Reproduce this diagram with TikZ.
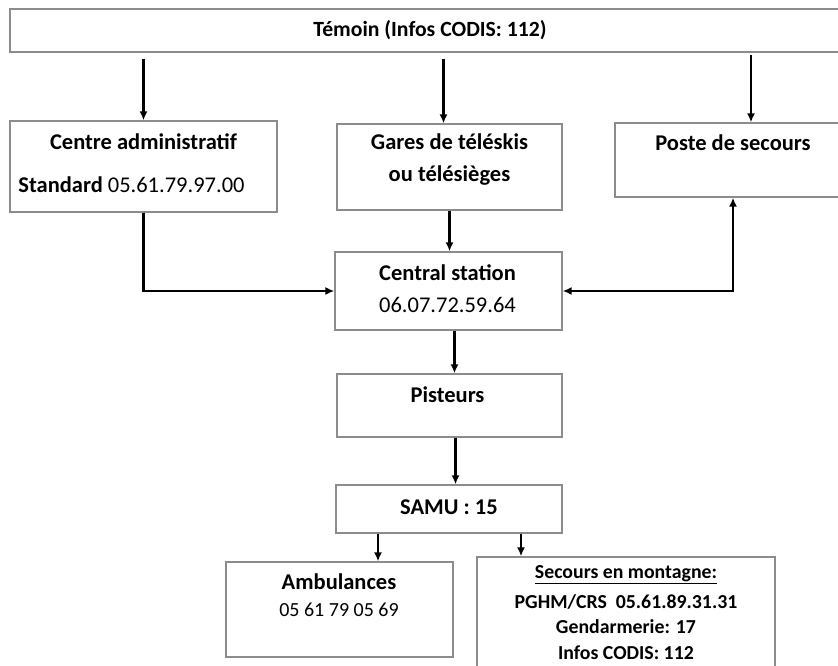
\documentclass[tikz,border=0pt]{standalone}
\usepackage{fontspec}
\setmainfont{Carlito}
\usetikzlibrary{arrows.meta}
\tikzset{
  box/.style={draw=black!45, line width=1.3pt, inner sep=0pt, fill=none},
  tb/.style={font=\bfseries\fontsize{22.5}{27}\selectfont, inner sep=0pt, anchor=center},
  tr/.style={font=\fontsize{22.5}{27}\selectfont, inner sep=0pt, anchor=center},
  ts/.style={font=\bfseries\fontsize{19.8}{24}\selectfont, inner sep=0pt, anchor=center},
  arr/.style={line width=2.4pt, -{Latex[length=9pt,width=8pt]}},
  darr/.style={line width=2.4pt, {Latex[length=9pt,width=8pt]}-{Latex[length=9pt,width=8pt]}}
}
\begin{document}
\begin{tikzpicture}[x=1pt,y=-1pt]
\useasboundingbox (0,0) rectangle (838,666);
\clip (0,0) rectangle (838,666);
\fill[white] (0,0) rectangle (838,666);
% boxes
\node[box, minimum width=840pt, minimum height=43pt] (top) at (430,30.5) {};
\node[box, minimum width=267pt, minimum height=91pt] (centre) at (143.5,166.5) {};
\node[box, minimum width=225pt, minimum height=86pt] (gares) at (449.5,167) {};
\node[box, minimum width=236pt, minimum height=74pt] (poste) at (733,160) {};
\node[box, minimum width=227pt, minimum height=78pt] (central) at (448.5,291) {};
\node[box, minimum width=225pt, minimum height=63pt] (pisteurs) at (449.5,405.5) {};
\node[box, minimum width=226pt, minimum height=48pt] (samu) at (449,509) {};
\node[box, minimum width=227pt, minimum height=95pt] (ambul) at (339.5,609.5) {};
\node[box, minimum width=298pt, minimum height=123pt] (secours) at (626,618.5) {};
% texts
\node[tb, font=\bfseries\fontsize{21.7}{26}\selectfont] (t1) at (430,30) {Témoin (Infos CODIS: 112)};
\node[tb] (t2) at (143.5,142) {Centre administratif};
\node[tb] (t3) at (131.5,185) {Standard {\mdseries 05.61.79.97.00}};
\node[tb] (t4) at (449.5,142) {Gares de téléskis};
\node[tb] (t5) at (449.5,176) {ou télésièges};
\node[tb] (t6) at (733,143) {Poste de secours};
\node[tb] (t7) at (447.5,273) {Central station};
\node[tr] (t8) at (447.5,305) {06.07.72.59.64};
\node[tb] (t9) at (447.5,395) {Pisteurs};
\node[tb] (t10) at (449,507) {SAMU : 15};
\node[tb] (t11) at (339,582) {Ambulances};
\node[tr, font=\fontsize{20}{24}\selectfont] (t12) at (339,610) {05 61 79 05 69};
\node[ts] (t13) at (626,575) {\underline{Secours en montagne:}};
\node[ts] (t14) at (626,602) {PGHM/CRS\ \ 05.61.89.31.31};
\node[ts] (t15) at (626,627) {Gendarmerie: 17};
\node[ts] (t16) at (626,653) {Infos CODIS: 112};
% helper coordinates
\coordinate (ga) at ([xshift=-6pt]gares.north);
\coordinate (po) at ([xshift=18pt]poste.north);
\coordinate (cs) at ([xshift=6pt]central.south);
\coordinate (ps) at ([xshift=6pt]pisteurs.south);
\coordinate (sa) at ([xshift=-71pt]samu.south);
\coordinate (sb) at ([xshift=72pt]samu.south);
% connectors
\draw[arr, shorten <=6pt] (top.south -| centre.north) -- (centre.north);
\draw[arr, shorten <=6pt] (top.south -| ga) -- (ga);
\draw[arr, shorten <=2pt] (top.south -| po) -- (po);
\draw[arr] (centre.south) |- (central.west);
\draw[arr] (gares.south) -- (gares.south |- central.north);
\draw[darr] (central.east) -| (poste.south);
\draw[arr] (cs) -- (cs |- pisteurs.north);
\draw[arr] (ps) -- (ps |- samu.north);
\draw[arr] (sa) -- (sa |- ambul.north);
\draw[arr] (sb) -- (sb |- secours.north);
\end{tikzpicture}
\end{document}
